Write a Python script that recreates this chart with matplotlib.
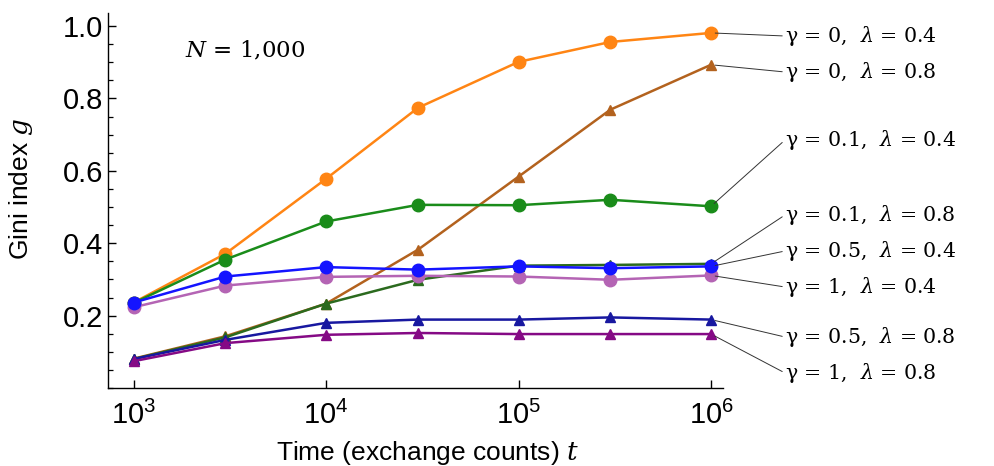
import matplotlib.pyplot as plt
import numpy as np
from matplotlib.ticker import MultipleLocator, FixedLocator, NullLocator

plt.rcParams['font.family'] = ['Liberation Sans', 'DejaVu Sans']
plt.rcParams['mathtext.fontset'] = 'dejavuserif'

# time steps (exchange counts)
t = [1e3, 3e3, 1e4, 3e4, 1e5, 3e5, 1e6]

# Gini index per parameter set
g_0_04 = [0.236, 0.371, 0.578, 0.774, 0.901, 0.956, 0.981]
g_01_04 = [0.235, 0.355, 0.460, 0.506, 0.505, 0.520, 0.502]
g_05_04 = [0.236, 0.308, 0.334, 0.327, 0.336, 0.331, 0.336]
g_1_04 = [0.223, 0.283, 0.307, 0.310, 0.308, 0.299, 0.311]
g_0_08 = [0.081, 0.143, 0.233, 0.382, 0.584, 0.769, 0.893]
g_01_08 = [0.080, 0.140, 0.233, 0.299, 0.338, 0.340, 0.343]
g_05_08 = [0.080, 0.133, 0.180, 0.189, 0.189, 0.195, 0.189]
g_1_08 = [0.074, 0.124, 0.147, 0.152, 0.149, 0.149, 0.149]

labels = ['γ = 0,  $\\lambda$ = 0.4', 'γ = 0,  $\\lambda$ = 0.8',
          'γ = 0.1,  $\\lambda$ = 0.4', 'γ = 0.1,  $\\lambda$ = 0.8',
          'γ = 0.5,  $\\lambda$ = 0.4', 'γ = 1,  $\\lambda$ = 0.4',
          'γ = 0.5,  $\\lambda$ = 0.8', 'γ = 1,  $\\lambda$ = 0.8']
series = [g_0_04, g_0_08, g_01_04, g_01_08, g_05_04, g_1_04, g_05_08, g_1_08]
colors = ['#FF8514', '#B3621E', '#1A8C1A', '#2B6A1E', '#1414FF', '#B464B4', '#1818A0', '#850A85']
markers = ['o', '^', 'o', '^', 'o', 'o', '^', '^']
label_y_px = [36, 72, 140, 215, 251, 287, 337, 373]  # label centres, pixels from top

fig = plt.figure(figsize=(9.94, 4.66), dpi=100)
ax = fig.add_axes([108 / 994, 78 / 466, 615 / 994, 375 / 466])

draw_order = [1, 3, 6, 7, 0, 2, 5, 4]
for i in draw_order:
    ms = 9 if markers[i] == 'o' else 7.5
    ax.plot(t, series[i], color=colors[i], marker=markers[i], ms=ms, lw=1.8, clip_on=False)

for i in range(len(series)):
    ax.annotate(labels[i], xy=(t[-1], series[i][-1]), xycoords='data',
                xytext=(785, 466 - label_y_px[i]), textcoords='figure pixels',
                ha='left', va='center', fontsize=14.8, family=['DejaVu Serif'],
                arrowprops=dict(arrowstyle='-', color='#333333', lw=0.7, shrinkA=0, shrinkB=3,
                                relpos=(0, 0.5)))

ax.text(0.125, 0.9, '$N$ = 1,000', transform=ax.transAxes, fontsize=16.5,
        family=['DejaVu Serif'], va='center')

ax.set_xscale('log')
ax.set_xlim(10 ** 2.867, 10 ** 6.062)
ax.set_ylim(0, 1.036)
ax.xaxis.set_major_locator(FixedLocator([1e3, 1e4, 1e5, 1e6]))
ax.xaxis.set_minor_locator(NullLocator())
ax.yaxis.set_major_locator(FixedLocator([0.2, 0.4, 0.6, 0.8, 1.0]))
ax.yaxis.set_minor_locator(MultipleLocator(0.05))
ax.yaxis.set_major_formatter(plt.FuncFormatter(lambda v, p: f'{v:.1f}'))

for s in ['top', 'right']:
    ax.spines[s].set_visible(False)
for s in ['left', 'bottom']:
    ax.spines[s].set_linewidth(1.0)
ax.tick_params(axis='both', which='major', direction='in', length=6, width=1.0, labelsize=21)
ax.tick_params(axis='both', which='minor', direction='in', length=3.5, width=0.9)
ax.tick_params(axis='x', pad=9)

ax.set_xlabel('Time (exchange counts) $t$', fontsize=19)
ax.set_ylabel('Gini index $g$', fontsize=19)
ax.xaxis.set_label_coords(0.52, -0.135)
ax.yaxis.set_label_coords(-0.118, 0.53)

fig.savefig('out.png', dpi=100)
